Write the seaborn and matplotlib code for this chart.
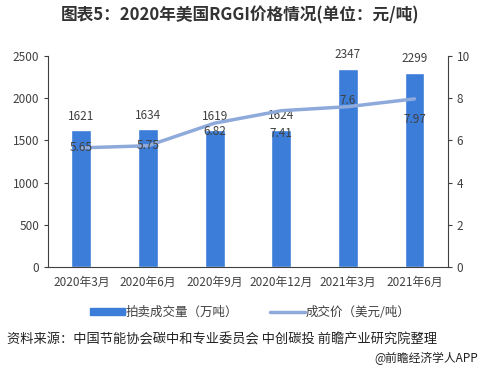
import pandas as pd
import numpy as np
import matplotlib.pyplot as plt
import seaborn as sns
from matplotlib.patches import Patch
from matplotlib.lines import Line2D

# data
months = ['2020年3月', '2020年6月', '2020年9月', '2020年12月', '2021年3月', '2021年6月']
volume = [1621, 1634, 1619, 1624, 2347, 2299]  # 拍卖成交量（万吨）
price = [5.65, 5.75, 6.82, 7.41, 7.6, 7.97]  # 成交价（美元/吨）

sns.set_style('white')
plt.rcParams['font.family'] = ['Noto Sans CJK SC', 'DejaVu Sans']

bar_color = '#3b7dd8'
line_color = '#8eaadb'
text_color = '#404040'

df = pd.DataFrame({'month': months, 'volume': volume, 'price': price})

fig = plt.figure(figsize=(4.81, 3.71), dpi=100)
ax = fig.add_axes([0.1, 0.28, 0.831, 0.569])

sns.barplot(data=df, x='month', y='volume', color=bar_color, width=0.3,
            saturation=1, ax=ax)
ax.set_ylim(0, 2500)
ax.set_yticks(range(0, 2501, 500))
ax.set_xlabel('')
ax.set_ylabel('')
for i, v in enumerate(volume):
    ax.text(i, v + 90, str(v), ha='center', va='bottom', fontsize=8.5, color=text_color)

ax2 = ax.twinx()
sns.lineplot(x=np.arange(len(months)), y=price, color=line_color, linewidth=2.5, ax=ax2)
ax2.set_ylim(0, 10)
ax2.set_yticks(range(0, 11, 2))
ax.set_xlim(-0.5, len(months) - 0.5)

offsets = [0, 0, -0.4, -1.1, 0.3, -1.0]
for i, p in enumerate(price):
    ax2.text(i, p + offsets[i], f'{p:g}', ha='center', va='center', fontsize=8.5, color=text_color)

for a in (ax, ax2):
    for s in a.spines.values():
        s.set_visible(False)
    a.tick_params(axis='both', labelsize=8.5, colors=text_color, length=3, width=0.8)
ax.spines['left'].set_visible(True)
ax.spines['bottom'].set_visible(True)
ax2.spines['right'].set_visible(True)
for s in (ax.spines['left'], ax.spines['bottom'], ax2.spines['right']):
    s.set_color('#404040')
    s.set_linewidth(0.8)
ax.tick_params(axis='x', length=0, pad=6)

handles = [Patch(color=bar_color), Line2D([0], [0], color=line_color, linewidth=2.5)]
fig.legend(handles, ['拍卖成交量（万吨）', '成交价（美元/吨）'], loc='center',
           bbox_to_anchor=(0.52, 0.158), ncol=2, frameon=False, fontsize=9,
           handlelength=2.8, handleheight=0.6, columnspacing=2.5, handletextpad=0.1,
           labelcolor=text_color)

fig.text(0.5, 0.958, '图表5：2020年美国RGGI价格情况(单位：元/吨)', ha='center', va='center',
         fontsize=12, fontweight='bold', color='#333333')
fig.text(0.015, 0.085, '资料来源：中国节能协会碳中和专业委员会 中创碳投 前瞻产业研究院整理',
         ha='left', va='center', fontsize=9.5, color='#222222')
fig.text(0.995, 0.035, '@前瞻经济学人APP', ha='right', va='center', fontsize=8.5, color='#222222')

fig.savefig('out.png', dpi=100)
